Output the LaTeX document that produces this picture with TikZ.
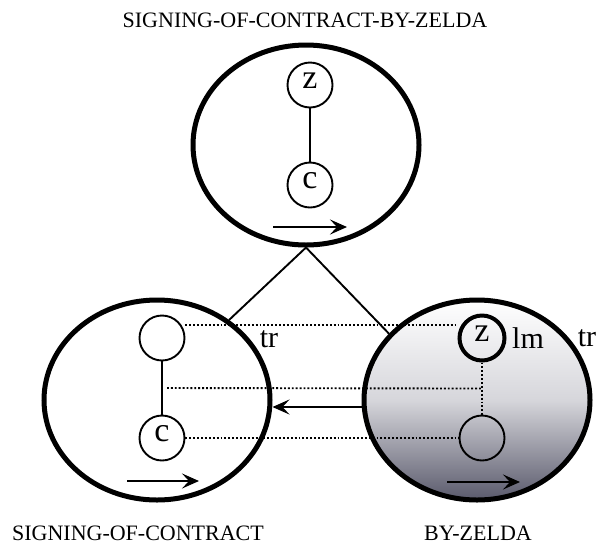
\documentclass[tikz,border=0pt]{standalone}
\usepackage{fontspec}
\setmainfont{Liberation Serif}
\usepackage{tikz}
\usetikzlibrary{arrows.meta,calc,shapes.geometric}
\definecolor{shadeDark}{HTML}{5A5A6C}
\definecolor{shadeMid}{HTML}{D6D6DB}

\begin{document}
\begin{tikzpicture}[x=1pt,y=-1pt,>={Stealth[length=17pt,width=15pt,inset=7pt]},
    frame/.style={ellipse,draw,line width=5pt,minimum width=226pt,
      minimum height=200pt,inner sep=0pt},
    slot/.style={circle,draw,line width=1.9pt,minimum size=45pt,inner sep=0pt,
      text height=0.68em,text depth=0pt,font=\fontsize{34}{34}\selectfont},
    lbl/.style={font=\fontsize{30}{30}\selectfont},
    title/.style={font=\fontsize{22}{22}\selectfont},
    link/.style={line width=1.9pt},
    dir/.style={line width=2.6pt,->}]
    \useasboundingbox (0,0) rectangle (601,547);
    % names of the wholes
    \node[title] (whole) at (305,20) {SIGNING-OF-CONTRACT-BY-ZELDA};
    \node[title] (partL) at (138,533) {SIGNING-OF-CONTRACT};
    \node[title] (partR) at (478,533) {BY-ZELDA};
    % frames
    \node[frame] (topF) at (306,145) {};
    \node[frame] (leftF) at (157,400) {};
    \node[frame,top color=white,bottom color=shadeDark,middle color=shadeMid]
      (rightF) at (477,400) {};
    % slots
    \node[slot] (tz) at (310,85) {z};
    \node[slot] (tc) at (310,185) {c};
    \node[slot] (lz) at (162,338) {};
    \node[slot] (lc) at (162,438) {c};
    \node[slot,line width=4pt] (rz) at (482,338) {z};
    \node[slot] (rc) at (482,438) {};
    \draw[link] (tz) -- (tc);
    \draw[link] (lz) -- (lc);
    \draw[link,dotted] (rz) -- (rc);
    % split into parts
    \draw[link] (topF.south) -- (leftF.48);
    \draw[link] (topF.south) -- (rightF.143);
    % correspondences
    \coordinate (lmid) at ($(lz.south)!.5!(lc.north)$);
    \coordinate (rmid) at ($(rz.south)!.5!(rc.north)$);
    \draw[link,dotted] ([yshift=13pt]lz.east) -- ([yshift=13pt]rz.west);
    \draw[link,dotted] ([xshift=5pt]lmid) -- (rmid);
    \draw[link,dotted] (lc.east) -- (rc.west);
    \draw[dir] ([yshift=-7pt]rightF.west) -- ([yshift=-7pt]leftF.east);
    % directions
    \draw[dir] ($(topF)+(-33,82)$) -- ++(74,0);
    \draw[dir] ($(leftF)+(-30,81)$) -- ++(72,0);
    \draw[dir] ($(rightF)+(-30,82)$) -- ++(73,0);
    % marks
    \node[lbl] (trL) at (269,339) {tr};
    \node[lbl] (lmR) at (528,338) {lm};
    \node[lbl] (trR) at (587,338) {tr};
\end{tikzpicture}
\end{document}
